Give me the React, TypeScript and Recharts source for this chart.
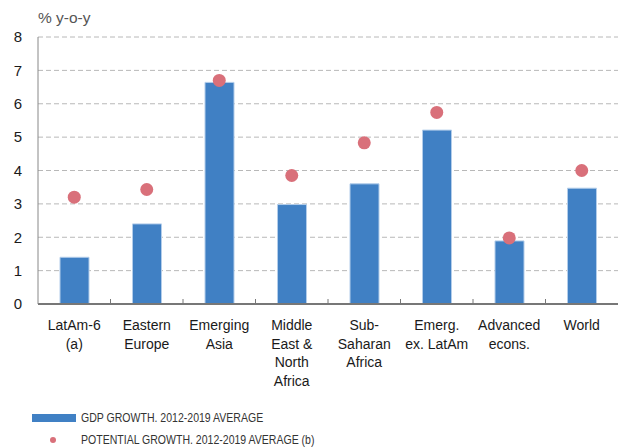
import { ComposedChart, Bar, Line, XAxis, YAxis, CartesianGrid } from "recharts";

const categories = [
  "LatAm-6 (a)",
  "Eastern Europe",
  "Emerging Asia",
  "Middle East & North Africa",
  "Sub-Saharan Africa",
  "Emerg. ex. LatAm",
  "Advanced econs.",
  "World",
];

const tickLabels = [
  ["LatAm-6", "(a)"],
  ["Eastern", "Europe"],
  ["Emerging", "Asia"],
  ["Middle", "East &", "North", "Africa"],
  ["Sub-", "Saharan", "Africa"],
  ["Emerg.", "ex. LatAm"],
  ["Advanced", "econs."],
  ["World"],
];

const gdpGrowth = [1.4, 2.4, 6.64, 2.98, 3.6, 5.21, 1.89, 3.47];
const potentialGrowth = [3.2, 3.43, 6.7, 3.85, 4.83, 5.74, 1.98, 4.0];

const yTicks = [0, 1, 2, 3, 4, 5, 6, 7, 8];

const data = categories.map((name, i) => ({
  name,
  gdp: gdpGrowth[i],
  potential: potentialGrowth[i],
}));

const BAR_BLUE = "#4080c4";
const DOT_RED = "#d9707a";
const FONT = "'Liberation Sans', Arial, Helvetica, sans-serif";

const PLOT_W = 580;

function CategoryTick(props: any) {
  const { x, y, index } = props;
  const band = PLOT_W / categories.length;
  const lines = tickLabels[index] || [];
  return (
    <g>
      {index > 0 && (
        <line x1={x - band / 2} x2={x - band / 2} y1={y - 5} y2={y} stroke="#777" strokeWidth={1} />
      )}
      <text x={x} y={y + 26} textAnchor="middle" fontSize={14} fontFamily={FONT} fill="#1a1a1a">
        {lines.map((l, i) => (
          <tspan key={i} x={x} dy={i === 0 ? 0 : 18.7}>
            {l}
          </tspan>
        ))}
      </text>
    </g>
  );
}

const legendText = {
  display: "inline-block",
  marginLeft: 5,
  fontFamily: FONT,
  fontSize: 13,
  lineHeight: "14px",
  color: "#333",
  transform: "scaleX(0.81)",
  transformOrigin: "left center",
  whiteSpace: "nowrap" as const,
};

export default function App() {
  return (
    <div style={{ position: "absolute", left: 0, top: 0, width: 619, height: 448, background: "#fff", overflow: "hidden" }}>
      <div
        style={{
          position: "absolute",
          left: 38,
          top: 9,
          fontFamily: FONT,
          fontSize: 15.5,
          color: "#555",
        }}
      >
        % y-o-y
      </div>
      <ComposedChart
        width={619}
        height={448}
        data={data}
        margin={{ top: 37, right: 1, left: 0, bottom: 54 }}
        barCategoryGap={0}
      >
        <CartesianGrid vertical={false} stroke="#b8b8b8" strokeDasharray="5 3" />
        <XAxis
          dataKey="name"
          interval={0}
          height={90}
          tickLine={false}
          tickSize={0}
          tickMargin={0}
          axisLine={{ stroke: "#777", strokeWidth: 2 }}
          tick={<CategoryTick />}
        />
        <YAxis
          width={38}
          domain={[0, 8]}
          ticks={yTicks}
          interval={0}
          tickLine={false}
          tickSize={0}
          tickMargin={16}
          axisLine={{ stroke: "#888" }}
          tick={{ fontSize: 15, fontFamily: FONT, fill: "#1a1a1a" }}
        />
        <Bar
          dataKey="gdp"
          fill={BAR_BLUE}
          stroke="#b3cdea"
          strokeWidth={1}
          barSize={29}
          isAnimationActive={false}
        />
        <Line
          dataKey="potential"
          stroke="none"
          dot={{ r: 6.5, fill: DOT_RED, stroke: "none" }}
          activeDot={false}
          isAnimationActive={false}
        />
      </ComposedChart>
      <div style={{ position: "absolute", left: 32, top: 411, height: 14, display: "flex", alignItems: "center" }}>
        <div style={{ width: 44, height: 8, background: BAR_BLUE }} />
        <span style={legendText}>GDP GROWTH. 2012-2019 AVERAGE</span>
      </div>
      <div style={{ position: "absolute", left: 32, top: 433, height: 14, display: "flex", alignItems: "center" }}>
        <div style={{ width: 44, height: 8, position: "relative" }}>
          <div
            style={{
              position: "absolute",
              left: 18,
              top: 1,
              width: 6,
              height: 6,
              borderRadius: 3,
              background: DOT_RED,
            }}
          />
        </div>
        <span style={legendText}>POTENTIAL GROWTH. 2012-2019 AVERAGE (b)</span>
      </div>
    </div>
  );
}
